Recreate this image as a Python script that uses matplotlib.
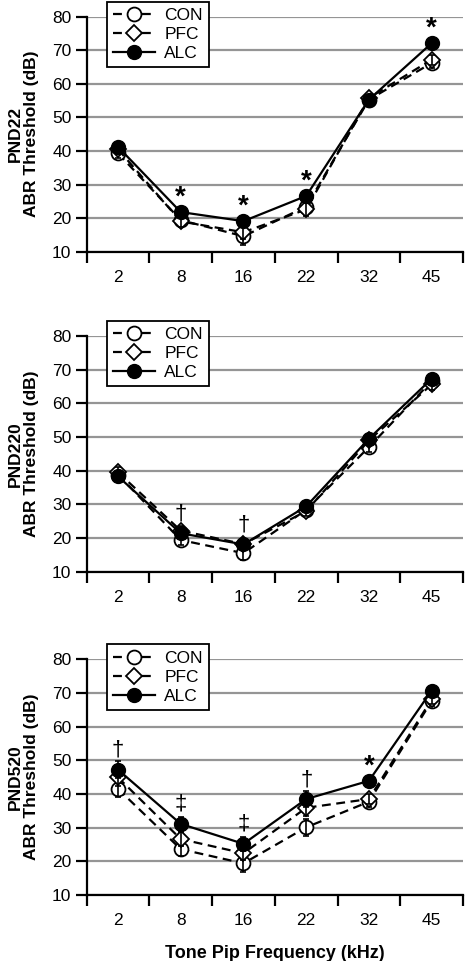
import matplotlib
matplotlib.use("Agg")
import matplotlib.pyplot as plt
from matplotlib.lines import Line2D

plt.rcParams['font.family'] = ['Liberation Sans', 'DejaVu Sans']

freqs = ["2", "8", "16", "22", "32", "45"]
groups = ["CON", "PFC", "ALC"]
panel_names = ["PND22", "PND220", "PND520"]

# PND22
con_22 = [39.3, 19.4, 14.6, 23.4, 55.3, 66.2]
pfc_22 = [40.5, 19.0, 15.8, 22.6, 55.8, 67.2]
alc_22 = [41.2, 21.8, 19.1, 26.6, 55.3, 72.1]
con_22_err = [1.5, 1.5, 2.5, 2.0, 1.0, 1.5]
pfc_22_err = [1.5, 1.5, 2.0, 2.0, 1.0, 1.5]
alc_22_err = [1.5, 1.5, 1.5, 1.5, 1.0, 1.5]

# PND220
con_220 = [38.8, 19.4, 15.5, 28.4, 47.0, 66.6]
pfc_220 = [39.5, 22.2, 18.2, 28.0, 49.0, 65.6]
alc_220 = [38.3, 21.4, 18.1, 29.4, 49.5, 67.3]
con_220_err = [1.5, 1.5, 2.0, 1.5, 1.5, 1.5]
pfc_220_err = [1.5, 1.5, 1.5, 1.5, 1.5, 1.5]
alc_220_err = [1.5, 1.5, 1.5, 1.5, 1.5, 1.5]

# PND520
con_520 = [41.5, 23.6, 19.4, 30.1, 37.7, 67.6]
pfc_520 = [44.9, 26.6, 22.4, 35.9, 38.5, 68.1]
alc_520 = [47.2, 31.1, 25.2, 38.5, 43.9, 70.7]
con_520_err = [2.5, 2.0, 2.5, 2.5, 1.5, 1.5]
pfc_520_err = [2.5, 2.0, 2.0, 2.5, 1.5, 1.5]
alc_520_err = [2.5, 2.0, 2.0, 2.5, 1.5, 1.5]

sig_22 = ["", "*", "*", "*", "", "*"]
sig_220 = ["", "\u2020", "\u2020", "", "", ""]
sig_520 = ["\u2020", "\u2021", "\u2021", "\u2020", "*", ""]

panels = [
    (con_22, pfc_22, alc_22, con_22_err, pfc_22_err, alc_22_err, sig_22),
    (con_220, pfc_220, alc_220, con_220_err, pfc_220_err, alc_220_err, sig_220),
    (con_520, pfc_520, alc_520, con_520_err, pfc_520_err, alc_520_err, sig_520),
]

W, H = 465, 961
fig = plt.figure(figsize=(W / 100, H / 100), dpi=100)

# axes boxes in pixels: (left, top, right, bottom)
boxes = [(86.7, 16.7, 463, 251.7), (86.7, 336, 463, 571.7), (86.7, 659.3, 463, 895)]

x = list(range(len(freqs)))
dash = (4, 2.5)
lw = 1.6

for (con, pfc, alc, ce, pe, ae, sig), (l, t, r, b), name in zip(panels, boxes, panel_names):
    ax = fig.add_axes([l / W, 1 - b / H, (r - l) / W, (b - t) / H])
    ax.set_xlim(-0.5, 5.5)
    ax.set_ylim(10, 80)
    ax.set_yticks(range(10, 81, 10))
    ax.yaxis.grid(True, color='#959595', linewidth=1.6)
    ax.set_axisbelow(True)
    for s in ['top', 'right']:
        ax.spines[s].set_visible(False)
    for s in ['left', 'bottom']:
        ax.spines[s].set_linewidth(1.6)
    ax.set_xticks([i - 0.5 for i in range(7)])
    ax.set_xticklabels([])
    ax.set_xticks(x, minor=True)
    ax.set_xticklabels(freqs, minor=True)
    ax.tick_params(axis='x', which='major', length=8, width=1.6, direction='out')
    ax.tick_params(axis='x', which='minor', length=0, pad=13, labelsize=12.5)
    ax.tick_params(axis='y', length=8, width=1.6, direction='out', pad=3, labelsize=12.5)

    # lines + markers
    ax.plot(x, con, color='black', lw=lw, dashes=dash, marker='o', ms=10,
            mfc='white', mec='black', mew=1.3, zorder=3)
    ax.errorbar(x, con, yerr=ce, fmt='none', ecolor='black', elinewidth=1.2,
                capsize=2.5, capthick=1.2, zorder=3.5)
    ax.plot(x, pfc, color='black', lw=lw, dashes=dash, marker='D', ms=8.5,
            mfc='white', mec='black', mew=1.3, zorder=4)
    ax.errorbar(x, pfc, yerr=pe, fmt='none', ecolor='black', elinewidth=1.2,
                capsize=2.5, capthick=1.2, zorder=4.5)
    ax.errorbar(x, alc, yerr=ae, fmt='none', ecolor='black', elinewidth=1.2,
                capsize=2.5, capthick=1.2, zorder=5)
    ax.plot(x, alc, color='black', lw=lw, marker='o', ms=10,
            mfc='black', mec='black', zorder=5.5)

    for i, s in enumerate(sig):
        if s:
            if s == "*":
                ax.text(i, alc[i] + 4.2, s, ha='center', va='center', fontsize=20,
                        fontweight='bold')
            else:
                ax.text(i, alc[i] + 5.8, s, ha='center', va='center', fontsize=16)

    ax.set_ylabel(name + "\nABR Threshold (dB)", fontsize=12.5, fontweight='bold',
                  linespacing=1.05)
    ax.yaxis.set_label_coords(-0.128, 0.5)

    handles = [
        Line2D([], [], color='black', lw=lw, dashes=dash, marker='o', ms=10,
               mfc='white', mec='black', mew=1.3),
        Line2D([], [], color='black', lw=lw, dashes=dash, marker='D', ms=8.5,
               mfc='white', mec='black', mew=1.3),
        Line2D([], [], color='black', lw=lw, marker='o', ms=10, mfc='black'),
    ]
    leg = ax.legend(handles, groups, loc='upper left', bbox_to_anchor=(0.054, 1.063),
                    fontsize=12.5, frameon=True, fancybox=False, framealpha=1,
                    edgecolor='black', handlelength=2.4, handletextpad=0.55,
                    borderpad=0.35, labelspacing=0.22, borderaxespad=0)
    leg.get_frame().set_linewidth(1.3)
    leg.set_zorder(10)

    if name == "PND520":
        ax.set_xlabel("Tone Pip Frequency (kHz)", fontsize=13, fontweight='bold',
                      labelpad=12)

fig.savefig("out.png", dpi=100)
